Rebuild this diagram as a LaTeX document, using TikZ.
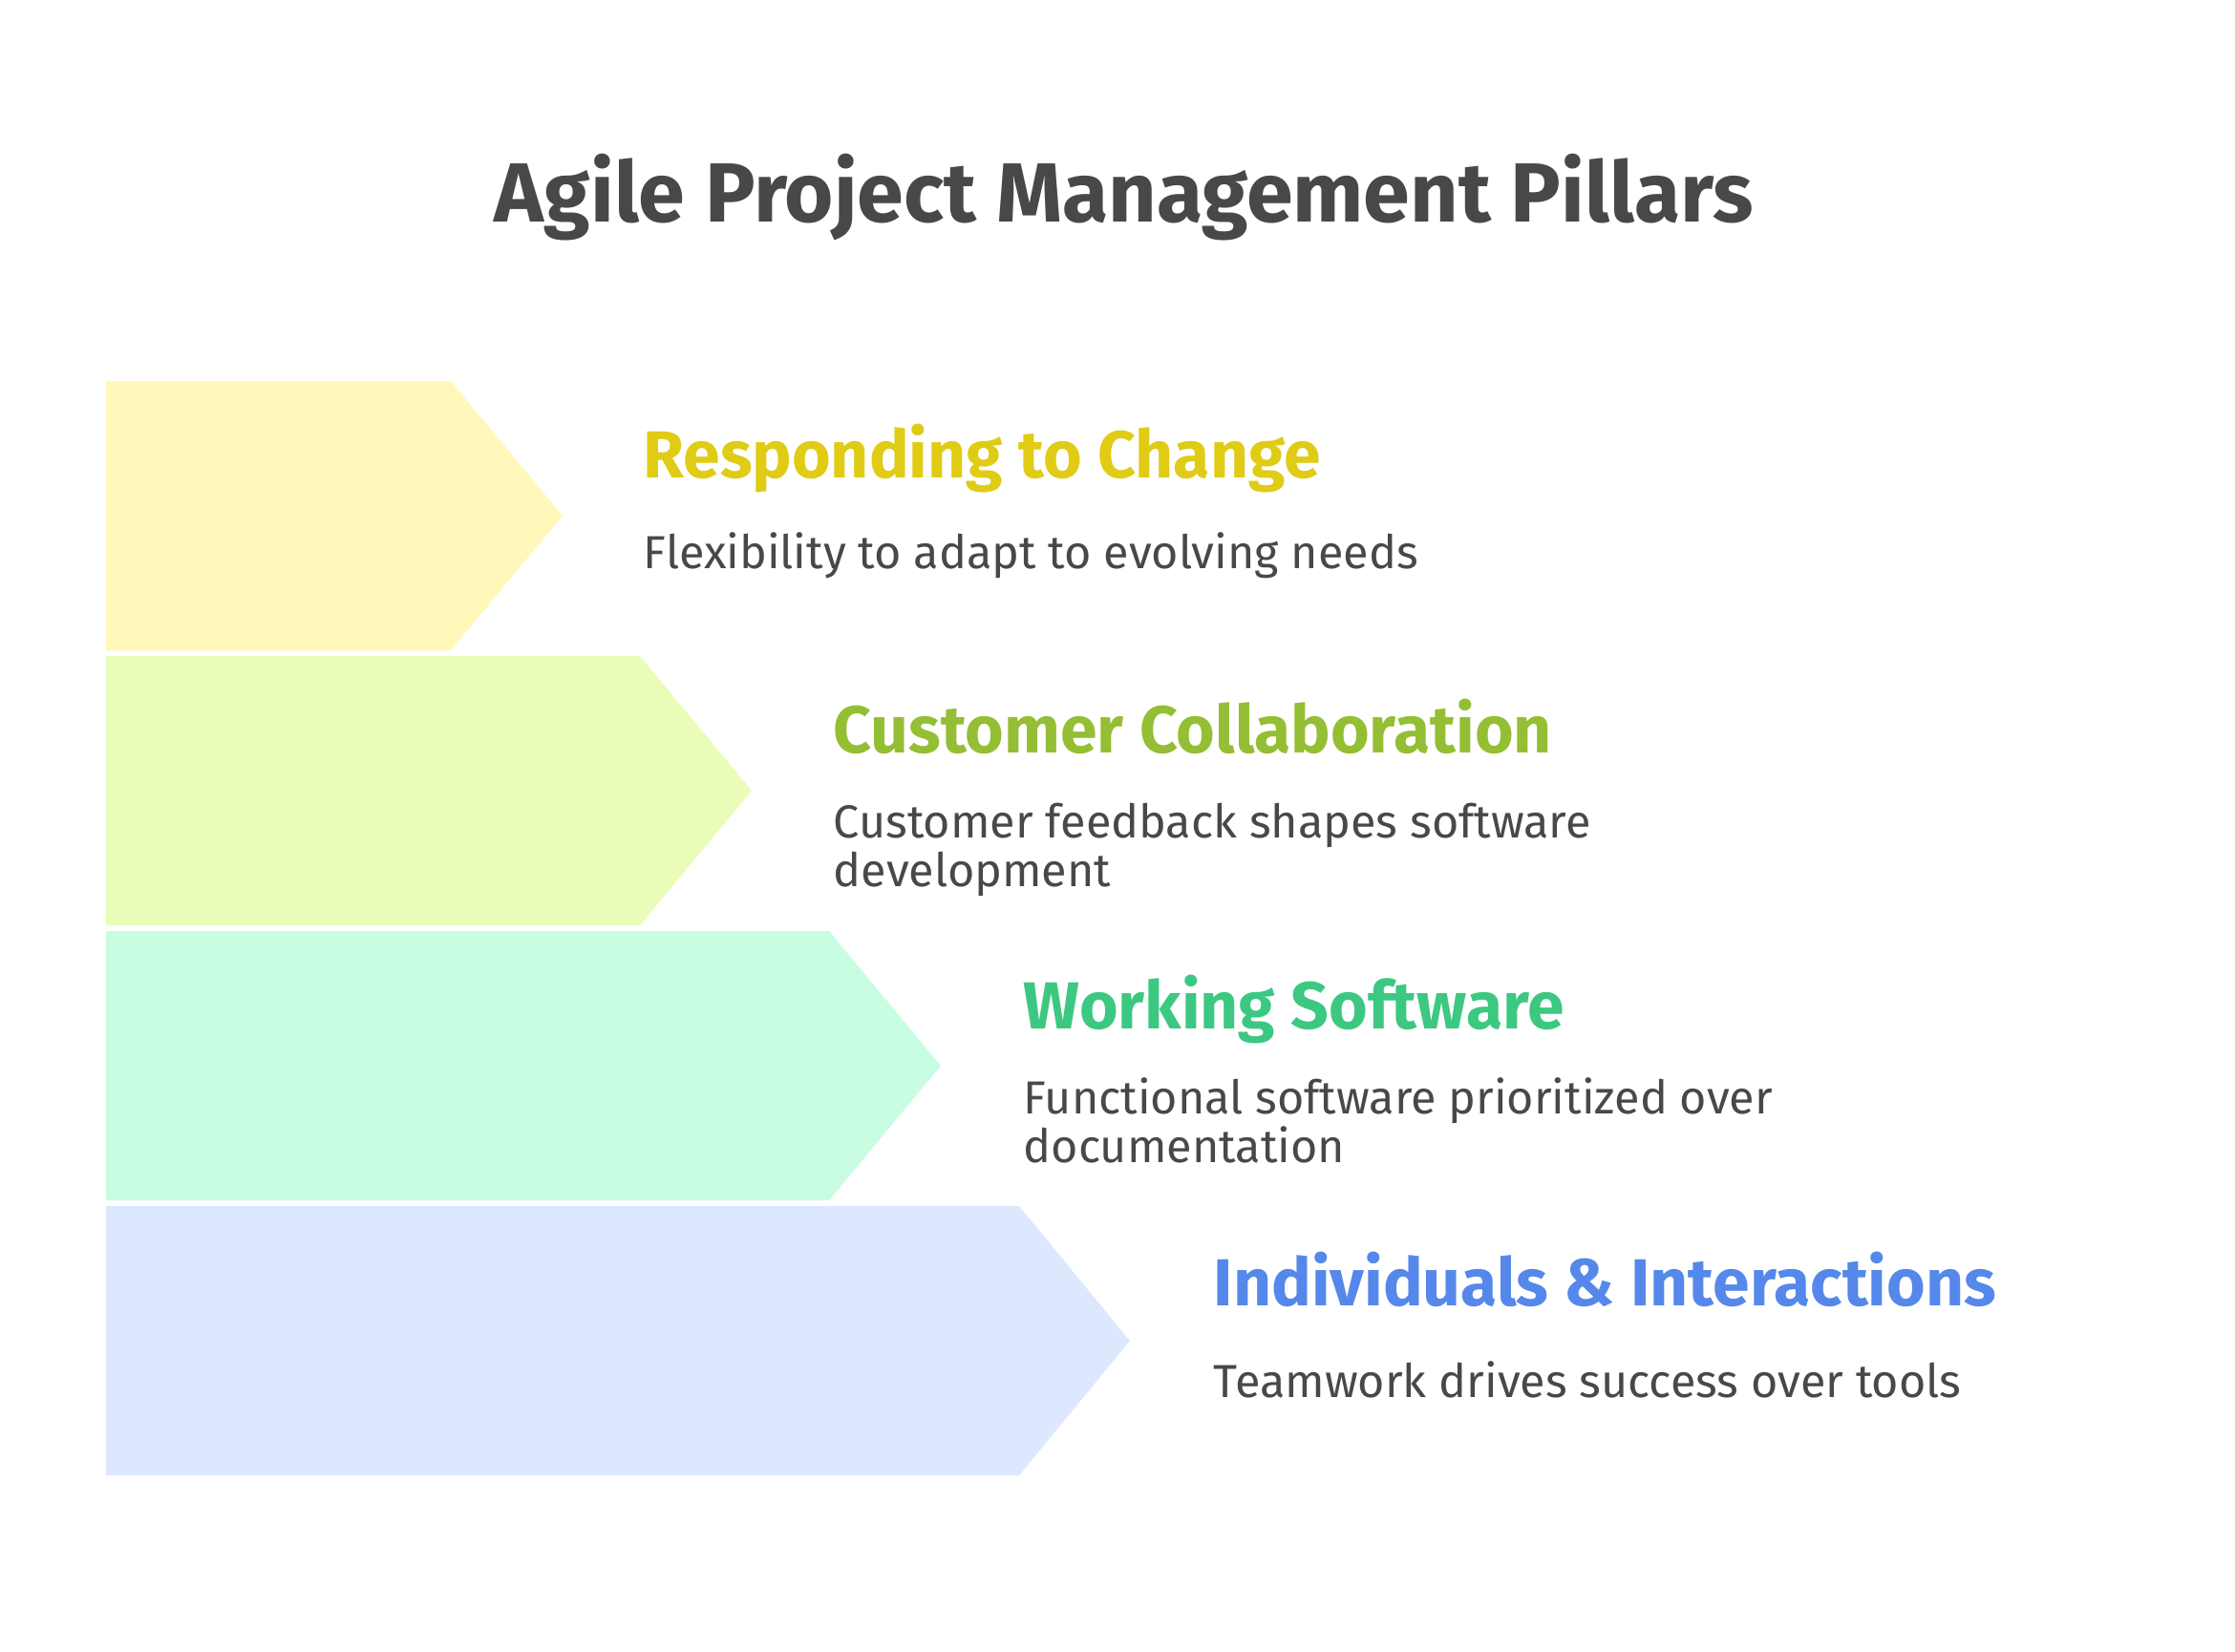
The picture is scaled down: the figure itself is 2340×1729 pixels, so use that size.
\documentclass[tikz,border=0pt]{standalone}
\usepackage{fontspec}
\setmainfont{Fira Sans}
\begin{document}
\begin{tikzpicture}[x=0.01cm,y=-0.01cm,
	heading/.style={anchor=base west,inner sep=0pt,font=\fontsize{19.8}{23}\selectfont\bfseries},
	blurb/.style={anchor=base west,inner sep=0pt,align=left,text=textgray,font=\fontsize{13.8}{14.5}\selectfont}]
	\definecolor{textgray}{HTML}{484848}
	\definecolor{changefill}{HTML}{FFF8BA}
	\definecolor{changetext}{HTML}{E0CB15}
	\definecolor{customerfill}{HTML}{EAFDB8}
	\definecolor{customertext}{HTML}{94BE34}
	\definecolor{softwarefill}{HTML}{C8FDE2}
	\definecolor{softwaretext}{HTML}{3DC882}
	\definecolor{peoplefill}{HTML}{DDE8FF}
	\definecolor{peopletext}{HTML}{5588EA}
	\useasboundingbox (0,0) rectangle (2340,1729);
	
	\node[inner sep=0pt,text=textgray,font=\fontsize{25}{29}\selectfont\bfseries] (title) at (1177,207) {Agile Project Management Pillars};
	
	% Four pillars, each shifted right as it goes down
	\fill[changefill] (111,399) -- (472,399) -- (589,540) -- (472,681) -- (111,681) -- cycle;
	\fill[customerfill] (111,687) -- (670,687) -- (787,828) -- (670,969) -- (111,969) -- cycle;
	\fill[softwarefill] (111,975) -- (868,975) -- (985,1116) -- (868,1257) -- (111,1257) -- cycle;
	\fill[peoplefill] (111,1263) -- (1067,1263) -- (1183,1404) -- (1067,1545) -- (111,1545) -- cycle;
	
	\node[heading,text=changetext] (change) at (673,500) {Responding to Change};
	\node[blurb] (changeblurb) at (673,595) {Flexibility to adapt to evolving needs};
	
	\node[heading,text=customertext] (customer) at (872,788) {Customer Collaboration};
	\node[blurb] (customerblurb) at (872,928) {Customer feedback shapes software\\development};
	
	\node[heading,text=softwaretext] (software) at (1071,1077) {Working Software};
	\node[blurb] (softwareblurb) at (1071,1217) {Functional software prioritized over\\documentation};
	
	\node[heading,text=peopletext] (people) at (1270,1367) {Individuals \& Interactions};
	\node[blurb] (peopleblurb) at (1270,1463) {Teamwork drives success over tools};
	
\end{tikzpicture}
\end{document}
